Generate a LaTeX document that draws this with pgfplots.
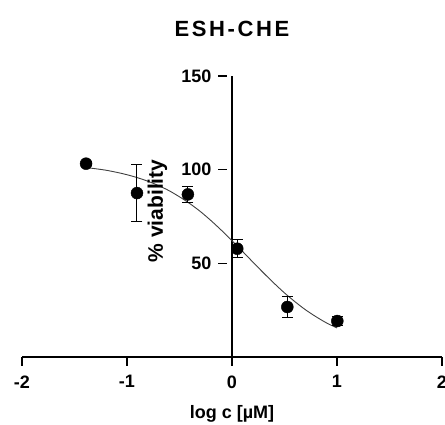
\documentclass[border=0pt]{standalone}
\usepackage{pgfplots}
\pgfplotsset{compat=1.18}
\usepackage{fontspec}
\setmainfont{Liberation Sans}

\begin{document}
\begin{tikzpicture}
\begin{axis}[
  at={(0,0)}, anchor=south west,
  scale only axis,
  width=420pt, height=281pt,
  xmin=-2, xmax=2,
  ymin=0, ymax=150,
  axis x line=bottom,
  axis y line=center,
  axis line style={-, line width=1.4pt},
  tick style={line width=1.4pt, black},
  tick align=outside,
  major tick length=9pt,
  y tick style={xshift=-4.5pt},
  xtick={-2,-1,0,1,2},
  xticklabels={-2,-1,0,1,2},
  ytick={50,100,150},
  yticklabels={50,100,150},
  ticklabel style={font=\bfseries\fontsize{18}{18}\selectfont},
  xticklabel style={yshift=-6pt},
  yticklabel style={xshift=-8pt},
  clip=false,
]
% fitted curve
\addplot[line width=0.9pt, black!75, smooth] coordinates {
  (-1.4,101.2) (-1.3,100.5) (-1.2,99.7) (-1.1,98.6) (-1.0,97.3)
  (-0.9,95.7) (-0.8,93.8) (-0.7,91.5) (-0.6,88.8) (-0.5,85.5)
  (-0.4,81.8) (-0.3,77.6) (-0.2,72.8) (-0.1,67.6) (0.0,62.1)
  (0.1,56.4) (0.2,50.6) (0.3,44.9) (0.4,39.4) (0.5,34.2)
  (0.6,29.5) (0.7,25.2) (0.8,21.5) (0.9,18.2) (1.0,15.5)
};
% means with SD
\addplot[only marks, mark=*, mark size=6pt, black,
  error bars/.cd, y dir=both, y explicit,
  error bar style={line width=1pt, black},
  error mark options={rotate=90, mark size=5.5pt, line width=1pt}]
  table[x=x, y=y, y error=e] {
x      y     e
-1.39  103.2 1.2
-0.905 87.5  15.2
-0.42  86.8  4.3
0.05   57.8  4.8
0.527  26.7  5.7
1.003  19.2  2.6
};
\node[rotate=90, font=\bfseries\fontsize{21}{21}\selectfont]
  at (axis cs:-0.71,78) {\% viability};
\node[font=\bfseries\fontsize{22}{22}\selectfont\addfontfeature{LetterSpace=12}]
  at (axis cs:0,175) {ESH-CHE};
\node[font=\bfseries\fontsize{18}{18}\selectfont] at (axis cs:0,0) [yshift=-57pt] {log c [µM]};
\end{axis}
\pgfresetboundingbox
\path[use as bounding box] (-22pt,-68pt) rectangle (423pt,357pt);
\end{tikzpicture}
\end{document}
